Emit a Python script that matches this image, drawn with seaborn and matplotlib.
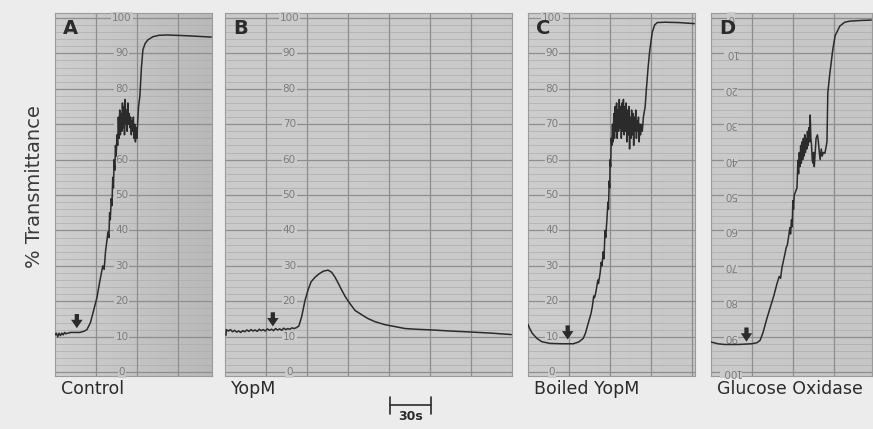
import numpy as np
import pandas as pd
import matplotlib
matplotlib.use("Agg")
import matplotlib.pyplot as plt
from matplotlib.colors import LinearSegmentedColormap
import seaborn as sns

# ---------------- data (time in s, % transmittance) ----------------
a_t = [0, 1, 2, 3, 4, 5, 6, 7, 8, 9, 10, 11, 14, 18, 21, 23.4, 26, 28, 30.7, 33, 35, 36, 37, 38.8,
       39.5, 40, 40.5, 41.2, 41.7, 42.3, 42.8, 43.3, 43.8, 44.3, 44.8, 45.4, 45.9, 46.4, 46.9, 47.4,
       47.9, 48.4, 48.9, 49.4, 49.9, 50.4, 50.9, 51.4, 51.9, 52.4, 52.9, 53.4, 53.9, 54.4, 54.9,
       55.4, 55.9, 56.4, 56.9, 57.4, 57.9, 58.4, 58.9, 59.4, 60, 60.6, 61.2, 62.2, 63.3, 64.4, 66,
       68, 71.7, 76, 82, 95, 105, 114.5]
a_v = [10.5, 11, 10, 11, 10.3, 11, 10.5, 11.2, 10.8, 11, 11, 11.2, 11.2, 11.2, 11.5, 12, 14, 17,
       21, 26, 30, 29, 34, 39.6, 38, 45, 43, 49, 47, 55, 52, 60, 57, 64, 61, 67, 64, 72, 66, 74, 67,
       73, 68, 76, 69, 75, 67, 77, 70, 74, 68, 76, 70, 73, 69, 72, 67, 71, 68, 72, 66, 70, 65, 69,
       66, 71, 75, 78, 86, 91, 92.8, 93.8, 94.7, 95.1, 95.2, 95, 94.8, 94.6]

b_t = [0.7, 1.0, 2.5, 4, 5.5, 7, 8.5, 10, 11.5, 13, 14.5, 16, 17.5, 19, 20.5, 22, 23.5, 25, 26.5,
       28, 29.5, 31, 32.5, 34, 35.5, 37, 38.5, 40, 41.5, 43, 44.5, 46, 47.5, 49, 50.5, 52, 54, 56,
       58.6, 61, 63, 65.9, 69, 72, 75.4, 78, 80.5, 83, 85.6, 88, 91.5, 95.2, 100, 104.7, 110, 117,
       125, 131.8, 140, 151.5, 165, 180.8, 195, 209.5]
b_v = [10.4, 12.0, 11.6, 12.0, 11.4, 11.8, 11.3, 11.6, 11.2, 11.7, 11.4, 11.9, 11.5, 12.0, 11.6,
       11.9, 11.5, 12.1, 11.7, 12.0, 11.6, 12.2, 11.8, 12.1, 11.7, 12.3, 11.9, 12.2, 11.8, 12.4,
       12.0, 12.3, 12.1, 12.5, 12.3, 12.5, 13.0, 15.5, 20.3, 23.5, 25.5, 26.8, 27.8, 28.5, 28.8,
       28.2, 26.8, 25.0, 23.0, 21.3, 19.3, 17.4, 16.2, 15.1, 14.2, 13.4, 12.8, 12.3, 12.1, 11.9,
       11.6, 11.3, 11.0, 10.6]

c_t = [0, 1, 3, 6.6, 10, 16, 25, 33, 37, 40.3, 42, 44, 46, 47, 48, 48.5, 49, 50, 51, 51.5, 52.7,
       53.5, 54, 55, 55.5, 56.3, 56.8, 57.8, 58.4, 58.8, 59.3, 59.7, 60, 60.4, 60.8, 61.2, 61.7,
       62.2, 62.7, 63.2, 63.7, 64.2, 64.7, 65.2, 65.7, 66.2, 66.7, 67.2, 67.7, 68.2, 68.7, 69.2,
       69.7, 70.2, 70.7, 71.2, 71.7, 72.2, 72.7, 73.2, 73.7, 74.2, 74.7, 75.2, 75.7, 76.2, 76.7,
       77.2, 77.7, 78.2, 78.7, 79.2, 79.7, 80.2, 80.7, 81.2, 81.7, 82.2, 82.7, 83.5, 84.3, 85.6,
       86.5, 87.8, 89, 90.8, 92.5, 94.4, 100, 110, 121.5]
c_v = [13.5, 12.5, 11, 9.5, 8.6, 8.1, 8, 8, 8.5, 9.5, 11, 13.8, 16.5, 18.5, 21.5, 21, 21.5, 23.5,
       26, 25, 28, 31, 30, 34, 32, 40, 38, 44, 48, 46, 54, 52, 60, 58, 66, 64, 70, 65, 73, 66, 75,
       68, 76, 66, 74, 68, 77, 69, 75, 66, 76, 68, 77, 67, 75, 68, 76, 65, 74, 67, 75, 63, 72, 66,
       74, 67, 73, 64, 72, 68, 74, 66, 71, 68, 72, 65, 70, 67, 70, 68, 72, 75, 80, 86.3, 91, 96,
       98, 98.7, 98.8, 98.7, 98.4]

# panel D chart paper is printed upside down (0 at top)
d_t = [0, 5, 10, 20, 30, 33.7, 36, 38, 41, 44, 46, 48.3, 50, 51, 52, 54.2, 55, 56, 57, 57.8, 58.3,
       59, 59.5, 60, 60.5, 61, 62, 63, 63.7, 64.2, 64.7, 65.2, 65.7, 66.2, 66.7, 67.2, 67.7, 68.2,
       68.7, 69.2, 69.7, 70.2, 70.7, 71.2, 71.7, 72.2, 72.7, 73.2, 73.7, 74.2, 74.7, 75.2, 75.7,
       76.2, 77, 78, 78.7, 79.4, 80, 80.8, 81.5, 82.3, 83.5, 85, 85.6, 87, 89.3, 91, 94.4, 98,
       101.7, 110, 117.5]
d_v = [91.5, 92, 92.2, 92.2, 92, 91.7, 91, 89, 84.8, 81, 78.5, 75.1, 73, 73.5, 70.5, 66.6, 65, 64,
       61.5, 59.2, 61, 57, 59, 51.6, 54, 50, 49, 48, 40.2, 44, 38, 42, 36, 41, 35, 40, 34, 39, 33,
       38, 34, 37, 32, 36, 31, 35, 27.4, 34, 36, 40, 41, 38, 42, 39, 34, 33, 35, 38, 40, 37, 39,
       38, 38.2, 35, 21.2, 16, 8.8, 5, 2.3, 1.2, 0.9, 0.7, 0.6]

panel_letters = ["A", "B", "C", "D"]
panel_names = ["Control", "YopM", "Boiled YopM", "Glucose Oxidase"]
x_limits = [115, 210, 122, 118]
label_pos = [49, 47, 17.6, 14.6]          # time where scale numbers are printed
arrow_t = [16, 35, 29, 26]
tick_values = [0, 10, 20, 30, 40, 50, 60, 70, 80, 90, 100]

# ---------------- layout (pixels) ----------------
W, H = 873, 429
lefts = [55, 225, 528, 711]
rights = [212, 512, 695, 872]
top_px, bot_px = 13, 376

sns.set_theme(style="white")
plt.rcParams["font.family"] = ["DejaVu Sans"]

fig = plt.figure(figsize=(W / 100, H / 100), dpi=100)
fig.patch.set_facecolor("#ececec")

series = [(a_t, a_v), (b_t, b_v), (c_t, c_v), (d_t, d_v)]
paper_left = ["#cfcfcf", "#cbcbcb", "#cdcdcd", "#cacaca"]
paper_right = ["#b9b9b9", "#c9c9c9", "#c8c8c8", "#c6c6c6"]
major_c = "#8e8e8e"
minor_c = "#adadad"
ink = "#2b2b2b"

for i in range(4):
    l, r = lefts[i], rights[i]
    ax = fig.add_axes([l / W, 1 - bot_px / H, (r - l) / W, (bot_px - top_px) / H])
    inverted = (i == 3)
    xl = x_limits[i]
    ylim = (101.1, -1.4) if inverted else (-1.1, 101.4)

    # paper shading
    cmap = LinearSegmentedColormap.from_list("p", [paper_left[i], paper_right[i]])
    ax.imshow(np.linspace(0, 1, 64)[None, :], extent=[0, xl, ylim[0], ylim[1]],
              aspect="auto", cmap=cmap, origin="lower", zorder=0, interpolation="bilinear")

    df = pd.DataFrame({"t": series[i][0], "v": series[i][1]})
    sns.lineplot(data=df, x="t", y="v", ax=ax, color=ink, linewidth=1.1,
                 sort=False, estimator=None, zorder=5)
    ax.set_xlim(0, xl)
    ax.set_ylim(*ylim)

    # chart-paper grid
    for y in np.arange(0, 101, 2):
        major = (y % 10 == 0)
        ax.axhline(y, color=major_c if major else minor_c,
                   lw=0.9 if major else 0.5, zorder=1)
    for x in np.arange(30, xl, 30):
        ax.axvline(x, color=major_c, lw=0.9, zorder=1)

    # printed scale numbers
    frac = label_pos[i] / xl
    lab_bg = cmap(frac)
    for v in tick_values:
        ax.text(label_pos[i], v, str(v), fontsize=7.5, color="#7c7c7c",
                ha="center", va="center", rotation=180 if inverted else 0,
                bbox=dict(facecolor=lab_bg, edgecolor="none", pad=0.6), zorder=3)

    # injection arrow
    idx = int(np.argmin(np.abs(np.array(series[i][0]) - arrow_t[i])))
    base = series[i][1][idx]
    if inverted:
        y0, y1 = base - 4.6, base - 0.6
    else:
        y0, y1 = base + 5.2, base + 1.2
    ax.annotate("", xy=(arrow_t[i], y1), xytext=(arrow_t[i], y0),
                arrowprops=dict(arrowstyle="simple,head_length=0.55,head_width=0.75,tail_width=0.28",
                                color=ink, lw=0, mutation_scale=11, shrinkA=0, shrinkB=0),
                zorder=6)

    ax.set_xticks([])
    ax.set_yticks([])
    ax.set_xlabel("")
    ax.set_ylabel("")
    for s in ax.spines.values():
        s.set_color("#9a9a9a")
        s.set_linewidth(0.8)

    # panel letter and name
    fig.text((l + 8) / W, 1 - 28 / H, panel_letters[i], fontsize=14, fontweight="bold",
             color=ink, ha="left", va="center", zorder=10)
    fig.text((l + 6) / W, 1 - 389 / H, panel_names[i], fontsize=12.5,
             color=ink, ha="left", va="center")

fig.text(35 / W, 1 - 187 / H, "% Transmittance", rotation=90, fontsize=14,
         color="#3a3a3a", ha="center", va="center")

# 30 s scale bar
bar = fig.add_axes([0, 0, 1, 1], facecolor="none")
bar.set_xlim(0, W)
bar.set_ylim(H, 0)
bar.axis("off")
bar.plot([390, 431], [405, 405], color=ink, lw=1.2)
bar.plot([390, 390], [397, 414], color=ink, lw=1.2)
bar.plot([431, 431], [397, 414], color=ink, lw=1.2)
bar.text(410.5, 417, "30s", fontsize=9, fontweight="bold", color=ink,
         ha="center", va="center")

fig.savefig("out.png", dpi=100, facecolor=fig.get_facecolor())
